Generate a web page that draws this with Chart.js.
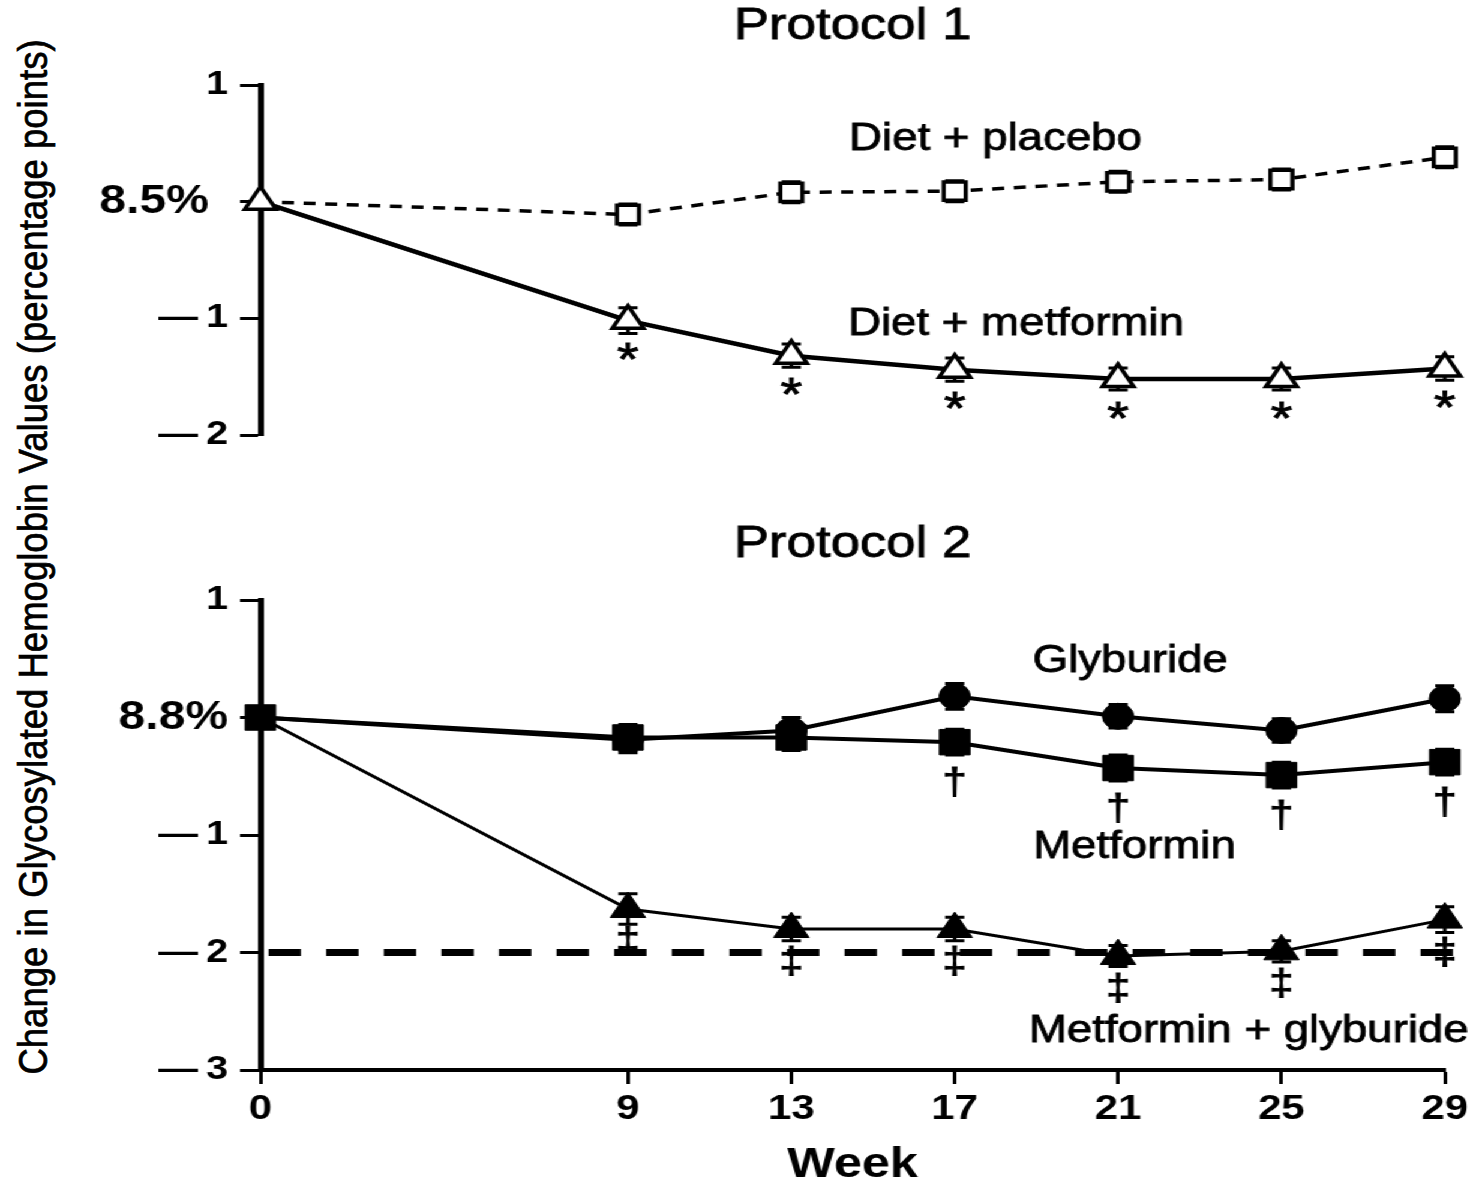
<!DOCTYPE html>
<html>
<head>
<meta charset="utf-8">
<title>Change in Glycosylated Hemoglobin Values</title>
<script src="https://cdn.jsdelivr.net/npm/chart.js@4.4.1/dist/chart.umd.min.js"></script>
<style>
  html, body { margin: 0; padding: 0; background: #fff; }
  body { width: 1475px; height: 1185px; position: relative; overflow: hidden; font-family: "Liberation Sans", Arial, sans-serif; }
  /* the scanned figure is a bit stretched sideways, so the whole plot is too */
  #wrap { position: absolute; left: 0; top: 0; width: 1230px; height: 1185px; transform: scaleX(1.2); transform-origin: 0 0; }
  #box1 { position: absolute; left: 0; top: 0; width: 1230px; height: 470px; }
  #box2 { position: absolute; left: 0; top: 470px; width: 1230px; height: 715px; }
  #ytitle { position: absolute; white-space: nowrap; font-size: 40px; line-height: 1; color: #000; -webkit-text-stroke: 0.7px #000; }
</style>
</head>
<body>
<div id="ytitle"></div>
<div id="wrap">
  <div id="box1"><canvas id="proto1"></canvas></div>
  <div id="box2"><canvas id="proto2"></canvas></div>
</div>
<script>
const FONT = '"Liberation Sans", Arial, sans-serif';

// x axis
const weeks = [0, 9, 13, 17, 21, 25, 29];
const weekLabels = ['0', '9', '13', '17', '21', '25', '29'];

// Protocol 1
const placebo      = [0, -0.11, 0.08, 0.09, 0.17, 0.19, 0.38];
const placeboErr   = [0, 0.09, 0.09, 0.09, 0.09, 0.09, 0.09];
const metformin1   = [0, -1.02, -1.32, -1.44, -1.52, -1.52, -1.43];
const metformin1Err = [0, 0.11, 0.10, 0.10, 0.095, 0.095, 0.10];
const metformin1Marks = ['', '*', '*', '*', '*', '*', '*'];
const p1Ticks = [1, 0, -1, -2];
const p1TickLabels = ['1', '8.5%\u2009\u2009', '\u2014\u20091', '\u2014\u20092'];

// Protocol 2
const glyburide    = [0, -0.19, -0.11, 0.18, 0.01, -0.11, 0.16];
const glyburideErr = [0, 0.11, 0.11, 0.11, 0.10, 0.10, 0.11];
const metformin2   = [0, -0.17, -0.17, -0.21, -0.43, -0.49, -0.38];
const metformin2Err = [0, 0.11, 0.11, 0.11, 0.11, 0.11, 0.11];
const metformin2Marks = ['', '', '', '\u2020', '\u2020', '\u2020', '\u2020'];
const combo        = [0, -1.63, -1.80, -1.80, -2.03, -1.99, -1.72];
const comboErr     = [0, 0.13, 0.10, 0.10, 0.09, 0.09, 0.11];
const comboMarks   = ['', '\u2021', '\u2021', '\u2021', '\u2021', '\u2021', '\u2021'];
const targetLineX  = [0.2, 29.5];
const targetLineY  = [-2, -2];
const p2Ticks = [1, 0, -1, -2, -3];
const p2TickLabels = ['1', '8.8%', '\u2014\u20091', '\u2014\u20092', '\u2014\u20093'];

const seriesNames = ['Diet + placebo', 'Diet + metformin', 'Glyburide', 'Metformin', 'Metformin + glyburide'];
const panelTitles = ['Protocol 1', 'Protocol 2'];
const xTitle = 'Week';
const yTitle = 'Change in Glycosylated Hemoglobin Values (percentage points)';

function pts(vals, xs) {
  xs = xs || weeks;
  return vals.map((v, i) => ({ x: xs[i], y: v }));
}

// error bars drawn under the markers
const errorBarPlugin = {
  id: 'errorBars',
  beforeDatasetsDraw(chart) {
    const ctx = chart.ctx, ys = chart.scales.y;
    ctx.save();
    ctx.strokeStyle = '#000';
    ctx.lineWidth = 3;
    chart.data.datasets.forEach((ds, di) => {
      if (!ds.errorBars) return;
      const meta = chart.getDatasetMeta(di);
      meta.data.forEach((pt, i) => {
        const e = ds.errorBars[i];
        if (!e) return;
        const v = ds.data[i].y;
        const y1 = ys.getPixelForValue(v + e), y2 = ys.getPixelForValue(v - e);
        ctx.beginPath();
        ctx.moveTo(pt.x, y1); ctx.lineTo(pt.x, y2);
        ctx.moveTo(pt.x - 8, y1); ctx.lineTo(pt.x + 8, y1);
        ctx.moveTo(pt.x - 8, y2); ctx.lineTo(pt.x + 8, y2);
        ctx.stroke();
      });
    });
    ctx.restore();
  }
};

// significance marks, series names, panel title
const textPlugin = {
  id: 'panelText',
  afterDatasetsDraw(chart, args, opts) {
    const ctx = chart.ctx, xs = chart.scales.x, ys = chart.scales.y, area = chart.chartArea;
    ctx.save();
    ctx.fillStyle = '#000';
    ctx.strokeStyle = '#000';
    ctx.textAlign = 'center';
    ctx.textBaseline = 'middle';

    chart.data.datasets.forEach((ds, di) => {
      if (!ds.marks) return;
      const meta = chart.getDatasetMeta(di);
      ctx.font = (ds.markSize || 36) + 'px ' + FONT;
      ctx.lineWidth = 1;
      meta.data.forEach((pt, i) => {
        if (!ds.marks[i]) return;
        ctx.fillText(ds.marks[i], pt.x, pt.y + ds.markOffset);
        ctx.strokeText(ds.marks[i], pt.x, pt.y + ds.markOffset);
      });
    });

    ctx.font = '38px ' + FONT;
    ctx.lineWidth = 0.8;
    (opts.labels || []).forEach(l => {
      const x = xs.getPixelForValue(l.x), y = ys.getPixelForValue(l.y);
      ctx.fillText(l.text, x, y);
      ctx.strokeText(l.text, x, y);
    });

    const cx = (area.left + area.right) / 2;
    if (opts.title) {
      ctx.font = '44px ' + FONT;
      ctx.fillText(opts.title, cx, opts.titleY);
      ctx.strokeText(opts.title, cx, opts.titleY);
    }
    if (opts.xTitle) {
      ctx.font = 'bold 42px ' + FONT;
      ctx.fillText(opts.xTitle, cx, opts.xTitleY);
    }
    ctx.restore();
  }
};

function yScale(min, max, ticks, labels) {
  return {
    type: 'linear', min: min, max: max,
    afterFit: s => { s.width = 217; },
    afterBuildTicks: s => { s.ticks = ticks.map(v => ({ value: v })); },
    ticks: {
      color: '#000', padding: 10, autoSkip: false,
      font: c => (c.tick && c.tick.value === 0)
        ? { family: FONT, size: 40, weight: 'bold' }
        : { family: FONT, size: 33, weight: 'bold' },
      callback: v => labels[ticks.indexOf(v)]
    },
    grid: { drawOnChartArea: false, drawTicks: true, tickLength: 17, tickWidth: 3, tickColor: '#000' },
    border: { display: true, width: 5, color: '#000' }
  };
}

function xScale(show) {
  return {
    type: 'linear', min: 0, max: 29, display: show,
    afterBuildTicks: s => { s.ticks = weeks.map(v => ({ value: v })); },
    afterFit: s => { s.height = show ? 75 : 0; },
    ticks: {
      color: '#000', padding: 4, autoSkip: false, maxRotation: 0,
      font: { family: FONT, size: 35, weight: 'bold' },
      callback: v => weekLabels[weeks.indexOf(v)]
    },
    grid: { drawOnChartArea: false, drawTicks: true, tickLength: 14, tickWidth: 3, tickColor: '#000' },
    border: { display: true, width: 4, color: '#000' }
  };
}

const baseOpts = {
  responsive: true,
  maintainAspectRatio: false,
  animation: false,
  events: [],
  elements: { line: { tension: 0 } }
};

new Chart(document.getElementById('proto1'), {
  type: 'line',
  data: {
    datasets: [
      {
        label: seriesNames[1], data: pts(metformin1), clip: false,
        borderColor: '#000', borderWidth: 4.5,
        pointStyle: 'triangle', pointRadius: 15, pointBorderWidth: 3.5,
        pointBackgroundColor: '#fff', pointBorderColor: '#000',
        errorBars: metformin1Err, marks: metformin1Marks, markOffset: 42, markSize: 46
      },
      {
        label: seriesNames[0], data: pts(placebo), clip: false,
        borderColor: '#000', borderWidth: 3.5, borderDash: [10, 8],
        pointStyle: 'rect', pointRadius: c => c.dataIndex === 0 ? 0 : 13, pointBorderWidth: 3.5,
        pointBackgroundColor: '#fff', pointBorderColor: '#000',
        errorBars: placeboErr
      }
    ]
  },
  options: Object.assign({}, baseOpts, {
    layout: { padding: { left: 0, right: 26, top: 85, bottom: 35 } },
    scales: { x: xScale(false), y: yScale(-2, 1, p1Ticks, p1TickLabels) },
    plugins: {
      legend: { display: false },
      tooltip: { enabled: false },
      panelText: {
        title: panelTitles[0], titleY: 27,
        labels: [
          { text: seriesNames[0], x: 18.0, y: 0.53 },
          { text: seriesNames[1], x: 18.5, y: -1.05 }
        ]
      }
    }
  }),
  plugins: [errorBarPlugin, textPlugin]
});

new Chart(document.getElementById('proto2'), {
  type: 'line',
  data: {
    datasets: [
      {
        label: seriesNames[2], data: pts(glyburide), clip: false,
        borderColor: '#000', borderWidth: 4,
        pointStyle: 'circle', pointRadius: c => c.dataIndex === 0 ? 0 : 13, pointBorderWidth: 1,
        pointBackgroundColor: '#000', pointBorderColor: '#000',
        errorBars: glyburideErr
      },
      {
        label: seriesNames[3], data: pts(metformin2), clip: false,
        borderColor: '#000', borderWidth: 4,
        pointStyle: 'rect', pointRadius: 18, pointBorderWidth: 1,
        pointBackgroundColor: '#000', pointBorderColor: '#000',
        errorBars: metformin2Err, marks: metformin2Marks, markOffset: 42, markSize: 36
      },
      {
        label: seriesNames[4], data: pts(combo), clip: false,
        borderColor: '#000', borderWidth: 3,
        pointStyle: 'triangle', pointRadius: c => c.dataIndex === 0 ? 0 : 17, pointBorderWidth: 1,
        pointBackgroundColor: '#000', pointBorderColor: '#000',
        errorBars: comboErr, marks: comboMarks, markOffset: 34, markSize: 36
      },
      {
        label: 'target', data: pts(targetLineY, targetLineX), clip: false,
        borderColor: '#000', borderWidth: 7, borderDash: [27, 21], borderCapStyle: 'butt',
        pointRadius: 0
      }
    ]
  },
  options: Object.assign({}, baseOpts, {
    layout: { padding: { left: 0, right: 26, top: 130, bottom: 40 } },
    scales: { x: xScale(true), y: yScale(-3, 1, p2Ticks, p2TickLabels) },
    plugins: {
      legend: { display: false },
      tooltip: { enabled: false },
      panelText: {
        title: panelTitles[1], titleY: 75,
        xTitle: xTitle, xTitleY: 695,
        labels: [
          { text: seriesNames[2], x: 21.3, y: 0.48 },
          { text: seriesNames[3], x: 21.4, y: -1.11 },
          { text: seriesNames[4], x: 24.2, y: -2.67 }
        ]
      }
    }
  }),
  plugins: [errorBarPlugin, textPlugin]
});

// shared y axis title, spanning both panels
const yt = document.getElementById('ytitle');
yt.textContent = yTitle;
const tw = yt.offsetWidth, th = yt.offsetHeight;
yt.style.left = (32 - tw / 2) + 'px';
yt.style.top = (557 - th / 2) + 'px';
yt.style.transform = 'rotate(-90deg) scaleX(' + (1035 / tw) + ')';
</script>
</body>
</html>
